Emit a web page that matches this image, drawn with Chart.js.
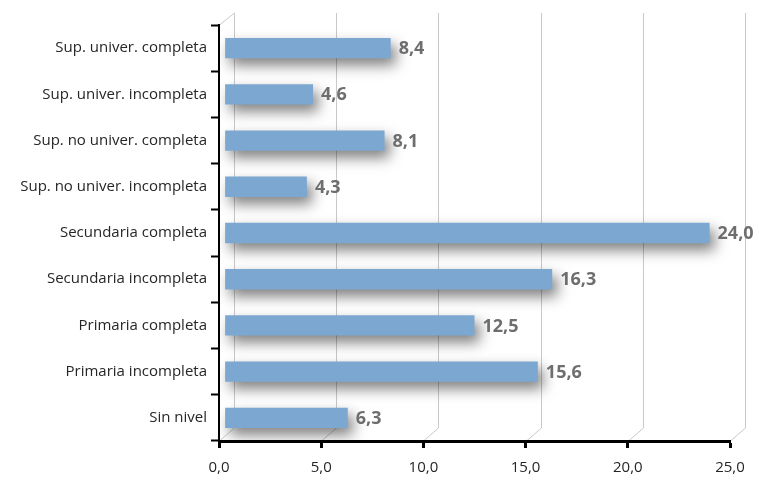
<!DOCTYPE html>
<html>
<head>
<meta charset="utf-8">
<script src="https://cdn.jsdelivr.net/npm/chart.js@4/dist/chart.umd.min.js"></script>
<style>
  html, body { margin: 0; padding: 0; background: #fff; }
  #wrap { width: 759px; height: 480px; }
</style>
</head>
<body>
<div id="wrap"><canvas id="barChart"></canvas></div>
<script>
const categorias = ['Sup. univer. completa', 'Sup. univer. incompleta', 'Sup. no univer. completa',
    'Sup. no univer. incompleta', 'Secundaria completa', 'Secundaria incompleta',
    'Primaria completa', 'Primaria incompleta', 'Sin nivel'];
const valores = [8.4, 4.6, 8.1, 4.3, 24.0, 16.3, 12.5, 15.6, 6.3];
const etiquetasX = ['0,0', '5,0', '10,0', '15,0', '20,0', '25,0'];

const fmt = v => v.toFixed(1).replace('.', ',');

// depth of the fake 3D back wall
const DX = 15, DY = 13;

const gridPlugin = {
    id: 'grid3d',
    beforeDraw(chart) {
        const { ctx, chartArea, scales } = chart;
        const x = scales.x;
        ctx.save();
        ctx.strokeStyle = '#c9c9c9';
        ctx.lineWidth = 1;
        ctx.beginPath();
        for (let v = 0; v <= 25; v += 5) {
            const px = Math.round(x.getPixelForValue(v)) + 0.5;
            ctx.moveTo(px, chartArea.bottom);
            ctx.lineTo(px + DX, chartArea.bottom - DY);
            ctx.lineTo(px + DX, chartArea.top - DY + 1);
        }
        const lx = Math.round(chartArea.left) + 0.5;
        ctx.moveTo(lx, chartArea.top);
        ctx.lineTo(lx + DX, chartArea.top - DY + 1);
        ctx.stroke();
        ctx.restore();
    }
};

const shadowPlugin = {
    id: 'barShadow',
    beforeDatasetDraw(chart) {
        const ctx = chart.ctx;
        ctx.save();
        ctx.shadowColor = 'rgba(0, 0, 0, 0.5)';
        ctx.shadowBlur = 14;
        ctx.shadowOffsetX = 5;
        ctx.shadowOffsetY = 7;
    },
    afterDatasetDraw(chart) {
        chart.ctx.restore();
    }
};

const labelPlugin = {
    id: 'valueLabels',
    afterDatasetsDraw(chart) {
        const ctx = chart.ctx;
        const meta = chart.getDatasetMeta(0);
        ctx.save();
        ctx.font = 'bold 18px "Open Sans"';
        ctx.fillStyle = '#6e6e6e';
        ctx.textAlign = 'left';
        ctx.textBaseline = 'middle';
        meta.data.forEach((bar, i) => {
            ctx.fillText(fmt(valores[i]), bar.x + 8, bar.y + 1);
        });
        ctx.restore();
    }
};

document.addEventListener('DOMContentLoaded', function() {
    new Chart(document.getElementById('barChart').getContext('2d'), {
        type: 'bar',
        data: {
            labels: categorias,
            datasets: [{
                data: valores,
                base: 0.3,
                backgroundColor: '#7ba7d0',
                borderWidth: 0,
                barPercentage: 0.44,
                categoryPercentage: 1.0
            }]
        },
        options: {
            indexAxis: 'y',
            responsive: true,
            maintainAspectRatio: false,
            animation: false,
            layout: { padding: { top: 25, right: 29, bottom: 0, left: 0 } },
            plugins: {
                legend: { display: false },
                tooltip: { enabled: false }
            },
            scales: {
                x: {
                    min: 0,
                    max: 25,
                    afterFit(scale) { scale.height = 39; },
                    ticks: {
                        stepSize: 5,
                        color: '#262626',
                        font: { family: 'Open Sans', size: 15 },
                        padding: 11,
                        callback: (v, i) => etiquetasX[i]
                    },
                    grid: {
                        drawOnChartArea: false,
                        drawTicks: true,
                        tickLength: 7,
                        tickWidth: 3,
                        tickColor: '#000'
                    },
                    border: { color: '#000', width: 3 }
                },
                y: {
                    offset: true,
                    afterFit(scale) { scale.width = 219; },
                    ticks: {
                        color: '#262626',
                        font: { family: 'Open Sans', size: 15 },
                        padding: 4
                    },
                    grid: {
                        offset: true,
                        drawOnChartArea: false,
                        tickLength: 8,
                        tickWidth: 2,
                        tickColor: '#000'
                    },
                    border: { color: '#000', width: 2 }
                }
            }
        },
        plugins: [gridPlugin, shadowPlugin, labelPlugin]
    });
});
</script>
</body>
</html>
